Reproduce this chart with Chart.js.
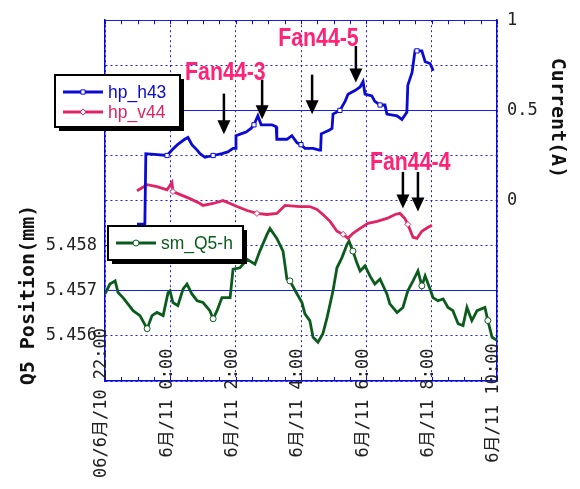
<!DOCTYPE html>
<html>
<head>
<meta charset="utf-8">
<script src="https://cdn.jsdelivr.net/npm/chart.js@4.4.1/dist/chart.umd.min.js"></script>
<style>
    html, body { margin: 0; padding: 0; background: #fff; }
    #wrap { width: 580px; height: 489px; }
</style>
</head>
<body>
<div id="wrap"><canvas id="trendChart"></canvas></div>
<script>
// ::::: DATA :::::
// x is hours after 06/6/10 22:00
const hoursH43 = [0.98, 1.22, 1.25, 1.90, 2.05, 2.22, 2.44, 2.54, 2.66, 2.82, 2.91, 3.06, 3.31, 3.58, 3.76, 3.92, 3.99, 4.01, 4.16, 4.32, 4.47, 4.56, 4.68, 4.78, 5.11, 5.24, 5.26, 5.57, 5.72, 5.88, 6.00, 6.12, 6.37, 6.56, 6.60, 6.62, 6.86, 6.95, 6.98, 7.19, 7.35, 7.44, 7.65, 7.81, 7.90, 7.96, 8.17, 8.26, 8.42, 8.57, 8.63, 8.94, 9.09, 9.24, 9.27, 9.40, 9.49, 9.55, 9.70, 9.80, 9.95, 10.05];
const currentH43 = [-0.13, -0.13, 0.26, 0.25, 0.28, 0.31, 0.34, 0.35, 0.31, 0.28, 0.26, 0.24, 0.25, 0.26, 0.27, 0.29, 0.29, 0.36, 0.37, 0.38, 0.40, 0.42, 0.47, 0.42, 0.42, 0.41, 0.34, 0.34, 0.36, 0.32, 0.31, 0.29, 0.29, 0.28, 0.28, 0.37, 0.39, 0.40, 0.48, 0.50, 0.55, 0.59, 0.61, 0.63, 0.66, 0.59, 0.58, 0.55, 0.53, 0.53, 0.48, 0.47, 0.45, 0.49, 0.64, 0.71, 0.83, 0.83, 0.83, 0.77, 0.76, 0.72];

const hoursV44 = [0.98, 1.29, 1.59, 1.90, 2.05, 2.08, 2.30, 2.60, 2.91, 3.00, 3.31, 3.61, 3.83, 4.04, 4.35, 4.65, 4.96, 5.26, 5.51, 5.97, 6.27, 6.49, 6.67, 6.89, 7.10, 7.29, 7.44, 7.59, 7.81, 8.05, 8.33, 8.63, 8.88, 9.03, 9.18, 9.27, 9.43, 9.55, 9.70, 9.89, 10.01];
const currentV44 = [0.055, 0.088, 0.077, 0.060, 0.100, 0.050, 0.033, 0.011, -0.016, -0.027, -0.016, 0.000, -0.016, -0.033, -0.055, -0.071, -0.077, -0.071, -0.027, -0.033, -0.033, -0.049, -0.077, -0.115, -0.170, -0.187, -0.209, -0.181, -0.154, -0.126, -0.115, -0.099, -0.077, -0.071, -0.099, -0.132, -0.203, -0.209, -0.170, -0.148, -0.137];

const hoursQ5 = [0, 0.15, 0.31, 0.40, 0.55, 0.70, 0.86, 1.07, 1.29, 1.44, 1.59, 1.78, 1.93, 1.99, 2.08, 2.23, 2.39, 2.51, 2.66, 2.82, 3.00, 3.21, 3.31, 3.43, 3.58, 3.83, 3.92, 4.13, 4.35, 4.59, 4.74, 4.96, 5.05, 5.26, 5.45, 5.57, 5.66, 5.88, 6.03, 6.12, 6.27, 6.37, 6.52, 6.67, 6.80, 6.98, 7.10, 7.25, 7.41, 7.47, 7.59, 7.71, 7.81, 7.96, 8.11, 8.26, 8.42, 8.63, 8.72, 8.94, 9.12, 9.27, 9.43, 9.58, 9.70, 9.80, 9.95, 10.04, 10.19, 10.35, 10.50, 10.65, 10.81, 10.96, 11.08, 11.23, 11.39, 11.63, 11.72, 11.85, 12.00];
const positionQ5 = [5.45693, 5.45715, 5.45722, 5.45696, 5.45685, 5.45671, 5.45656, 5.45645, 5.45616, 5.45645, 5.45652, 5.45645, 5.45696, 5.45700, 5.45674, 5.45667, 5.45704, 5.45715, 5.45693, 5.45678, 5.45674, 5.45656, 5.45638, 5.45656, 5.45685, 5.45685, 5.45748, 5.45751, 5.45770, 5.45759, 5.45788, 5.45825, 5.45838, 5.45816, 5.45788, 5.45726, 5.45722, 5.45693, 5.45674, 5.45649, 5.45634, 5.45597, 5.45586, 5.45605, 5.45641, 5.45700, 5.45751, 5.45773, 5.45803, 5.45810, 5.45788, 5.45762, 5.45744, 5.45755, 5.45733, 5.45715, 5.45726, 5.45693, 5.45671, 5.45652, 5.45663, 5.45700, 5.45722, 5.45744, 5.45711, 5.45733, 5.45704, 5.45685, 5.45678, 5.45682, 5.45663, 5.45656, 5.45627, 5.45623, 5.45663, 5.45634, 5.45656, 5.45663, 5.45634, 5.45597, 5.45590];

// tick labels (one per 2 hours)
const dateLabels = ["06/6月/10", "6月/11", "6月/11", "6月/11", "6月/11", "6月/11", "6月/11"];
const timeLabels = ["22:00", "0:00", "2:00", "4:00", "6:00", "8:00", "10:00"];

// fan annotations: arrows (hour, top current, tip current) and labels
const arrowHours = [3.64, 4.81, 6.34, 7.68, 9.12, 9.58];
const arrowTops = [0.593, 0.670, 0.698, 0.857, 0.159, 0.159];
const arrowTips = [0.368, 0.451, 0.478, 0.654, -0.044, -0.060];
const fanNames = ["Fan44-3", "Fan44-5", "Fan44-4"];
const fanHours = [2.45, 5.30, 8.11];
const fanCurrents = [0.67, 0.857, 0.17];

// ::::: STYLE :::::
const blue = "#0a0ad2";
const pink = "#e02463";
const green = "#0b5c1c";
const fanPink = "#ff2277";
const gridBlue = "#1a1aff";
const monoFont = "'DejaVu Sans Mono', 'Noto Sans CJK JP', monospace";

function toPoints(xs, ys) {
    return xs.map((x, i) => ({x: x, y: ys[i]}));
}

// a sparse marker every few points
function sparseRadius(every, offset) {
    return (ctx) => (ctx.dataIndex % every === offset ? 3 : 0);
}

function near(a, b) {
    return Math.abs(a - b) < 1e-7;
}

// ::::: Annotation / legend plugin :::::
const decorPlugin = {
    id: "decor",
    afterDatasetsDraw(chart) {
        const c = chart.ctx;
        const xs = chart.scales.x;
        const yc = chart.scales.yCur;
        const area = chart.chartArea;

        // small inward ticks every 30 min on top and bottom
        c.save();
        c.strokeStyle = blue;
        c.lineWidth = 1;
        for (let h = 0; h <= 12; h += 0.5) {
            const px = Math.round(xs.getPixelForValue(h)) + 0.5;
            c.beginPath();
            c.moveTo(px, area.top); c.lineTo(px, area.top + 4);
            c.moveTo(px, area.bottom); c.lineTo(px, area.bottom - 4);
            c.stroke();
        }
        c.restore();

        // arrows
        c.save();
        c.strokeStyle = "#000";
        c.fillStyle = "#000";
        c.lineWidth = 2.5;
        arrowHours.forEach((h, i) => {
            const px = xs.getPixelForValue(h);
            const top = yc.getPixelForValue(arrowTops[i]);
            const tip = yc.getPixelForValue(arrowTips[i]);
            c.beginPath();
            c.moveTo(px, top);
            c.lineTo(px, tip - 10);
            c.stroke();
            c.beginPath();
            c.moveTo(px - 6.5, tip - 14);
            c.lineTo(px + 6.5, tip - 14);
            c.lineTo(px, tip);
            c.closePath();
            c.fill();
        });
        c.restore();

        // fan labels
        fanNames.forEach((name, i) => {
            const px = xs.getPixelForValue(fanHours[i]);
            const py = yc.getPixelForValue(fanCurrents[i]);
            c.save();
            c.translate(px, py);
            c.scale(0.82, 1);
            c.font = "bold 26px 'Liberation Sans', Arial, sans-serif";
            c.fillStyle = fanPink;
            c.textAlign = "left";
            c.textBaseline = "alphabetic";
            c.fillText(name, 0, 0);
            c.restore();
        });

        // legend boxes
        drawLegendBox(c, 55, 75, 125, 52);
        drawLegendEntry(c, 63, 92, blue, "rect", "hp_h43");
        drawLegendEntry(c, 63, 112, pink, "rectRot", "hp_v44");
        drawLegendBox(c, 108, 226, 135, 34);
        drawLegendEntry(c, 116, 243, green, "circle", "sm_Q5-h");
    },
    afterDraw(chart) {
        const c = chart.ctx;
        const xs = chart.scales.x;

        // rotated date/time tick labels, centred across the bottom axis
        c.save();
        c.font = "17px " + monoFont;
        c.fillStyle = "#222";
        c.textAlign = "center";
        c.textBaseline = "middle";
        timeLabels.forEach((t, i) => {
            const px = xs.getPixelForValue(i * 2) - 3;
            c.save();
            c.translate(px, 403);
            c.rotate(-Math.PI / 2);
            c.fillText(dateLabels[i] + " " + t, 0, 0);
            c.restore();
        });
        c.restore();

        // axis titles
        c.save();
        c.font = "bold 20px " + monoFont;
        c.fillStyle = "#111";
        c.textAlign = "center";
        c.textBaseline = "middle";
        c.translate(29, 295);
        c.rotate(-Math.PI / 2);
        c.fillText("Q5 Position(mm)", 0, 0);
        c.restore();

        c.save();
        c.font = "bold 20px " + monoFont;
        c.fillStyle = "#111";
        c.textAlign = "center";
        c.textBaseline = "middle";
        c.translate(557, 118);
        c.rotate(Math.PI / 2);
        c.fillText("Current(A)", 0, 0);
        c.restore();
    }
};

function drawLegendBox(c, x, y, w, h) {
    c.save();
    c.fillStyle = "#000";
    c.fillRect(x + 4, y + 4, w, h);
    c.fillStyle = "#fff";
    c.fillRect(x, y, w, h);
    c.strokeStyle = "#000";
    c.lineWidth = 2;
    c.strokeRect(x, y, w, h);
    c.restore();
}

function drawLegendEntry(c, x, y, color, marker, text) {
    c.save();
    c.strokeStyle = color;
    c.lineWidth = 3;
    c.beginPath();
    c.moveTo(x, y);
    c.lineTo(x + 40, y);
    c.stroke();
    c.fillStyle = "#fff";
    c.lineWidth = 1;
    Chart.helpers.drawPoint(c, {pointStyle: marker, radius: 3, borderWidth: 1}, x + 20, y);
    c.fillStyle = color;
    c.font = "19px 'Liberation Sans', Arial, sans-serif";
    c.textBaseline = "middle";
    c.translate(x + 45, y + 1);
    c.scale(0.92, 1);
    c.fillText(text, 0, 0);
    c.restore();
}

// ::::: THE CHART :::::
const ctx = document.getElementById("trendChart");
const trendChart = new Chart(ctx, {
    type: "line",
    data: {
        datasets: [
            {
                label: "hp_h43",
                data: toPoints(hoursH43, currentH43),
                yAxisID: "yCur",
                borderColor: blue,
                backgroundColor: "#fff",
                borderWidth: 2.8,
                pointStyle: "rect",
                pointRadius: sparseRadius(9, 3),
                pointBorderWidth: 1
            },
            {
                label: "hp_v44",
                data: toPoints(hoursV44, currentV44),
                yAxisID: "yCur",
                borderColor: pink,
                backgroundColor: "#fff",
                borderWidth: 2.8,
                pointStyle: "rectRot",
                pointRadius: sparseRadius(10, 5),
                pointBorderWidth: 1
            },
            {
                label: "sm_Q5-h",
                data: toPoints(hoursQ5, positionQ5),
                yAxisID: "yPos",
                borderColor: green,
                backgroundColor: "#fff",
                borderWidth: 2.8,
                pointStyle: "circle",
                pointRadius: sparseRadius(14, 8),
                pointBorderWidth: 1
            }
        ]
    },
    options: {
        responsive: true,
        maintainAspectRatio: false,
        animation: false,
        layout: {
            autoPadding: false,
            padding: {top: 17, left: 0, right: 0, bottom: 0}
        },
        scales: {
            x: {
                type: "linear",
                min: 0,
                max: 12,
                ticks: {stepSize: 2, display: false},
                grid: {color: gridBlue, lineWidth: 1, drawTicks: false},
                border: {color: blue, width: 1.5, dash: [2, 3]},
                afterFit: (scale) => { scale.height = 108; }
            },
            yPos: {
                position: "left",
                min: 5.455,
                max: 5.463,
                ticks: {
                    stepSize: 0.001,
                    padding: 8,
                    color: "#222",
                    font: {family: monoFont, size: 17},
                    callback: (v) => {
                        const keep = [5.456, 5.457, 5.458];
                        return keep.some((k) => near(k, v)) ? v.toFixed(3) : "";
                    }
                },
                grid: {color: gridBlue, lineWidth: 1, drawTicks: false},
                border: {
                    color: blue,
                    width: 1.5,
                    dash: (c) => {
                        const v = c.tick ? c.tick.value : null;
                        if (v !== null && (near(v, 5.457) || near(v, 5.461) || near(v, 5.463))) {
                            return [];
                        }
                        return [2, 3];
                    }
                },
                afterFit: (scale) => { scale.width = 105; }
            },
            yCur: {
                position: "right",
                min: -1,
                max: 1,
                ticks: {
                    stepSize: 0.25,
                    padding: 10,
                    color: "#222",
                    font: {family: monoFont, size: 17},
                    callback: (v) => (v === 1 || v === 0.5 || v === 0 ? String(v) : "")
                },
                grid: {drawOnChartArea: false, drawTicks: false},
                border: {color: blue, width: 1.5},
                afterFit: (scale) => { scale.width = 83; }
            }
        },
        plugins: {
            legend: {display: false},
            tooltip: {enabled: false}
        }
    },
    plugins: [decorPlugin]
});
</script>
</body>
</html>
